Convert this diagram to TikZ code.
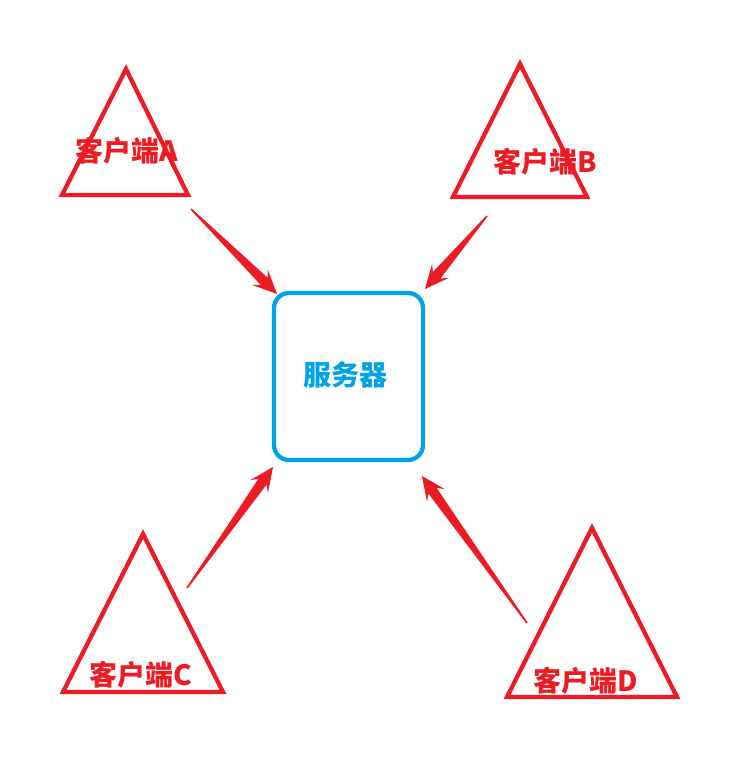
\documentclass[tikz,border=0pt]{standalone}
\usepackage{fontspec}
\newfontfamily\cjk{Noto Sans CJK SC}
\usetikzlibrary{calc}
\definecolor{cred}{HTML}{ED1C24}
\definecolor{cblue}{HTML}{00A2E8}
\tikzset{
  tri/.style={draw=cred, line width=4.3pt, line join=miter},
  clabel/.style={text=cred, font=\cjk\bfseries\fontsize{28}{30}\selectfont, inner sep=0pt},
  server/.style={draw=cblue, line width=4.3pt, rounded corners=15pt, minimum width=149pt, minimum height=167pt, inner sep=0pt},
  slabel/.style={text=cblue, font=\cjk\bfseries\fontsize{28}{30}\selectfont, inner sep=0pt},
  arrowfill/.style={fill=cred}
}
\newcommand\taperarrow[2]{%
  \path (#1) coordinate (tl) (#2) coordinate (tp);
  \path ($(tp)!24pt!(tl)$) coordinate (hb) ($(tp)!18pt!(tl)$) coordinate (hj);
  \fill[arrowfill] ($(tl)!0.8pt!90:(tp)$) -- ($(hj)!5pt!-90:(tl)$) -- ($(hb)!11pt!-90:(tl)$) -- (tp)
     -- ($(hb)!11pt!90:(tl)$) -- ($(hj)!5pt!90:(tl)$) -- ($(tl)!0.8pt!-90:(tp)$) -- cycle;
}
\begin{document}
\begin{tikzpicture}[x=1pt,y=-1pt]
\useasboundingbox (0,0) rectangle (729,763);
% server
\node[server] (srv) at (348.5,376.5) {};
\node[slabel] (srvlabel) at (345.5,375) {服务器};
% client triangles
\draw[tri] (126,69) coordinate (aT) -- (62,195) coordinate (aL) -- (188,195) coordinate (aR) -- cycle;
\node[clabel] (cA) at (126.5,150.5) {客户端A};
\draw[tri] (520,64) coordinate (bT) -- (453,197) coordinate (bL) -- (587,197) coordinate (bR) -- cycle;
\node[clabel] (cB) at (545.5,161.5) {客户端B};
\draw[tri] (143,534) coordinate (cT) -- (63,692) coordinate (cL) -- (223,692) coordinate (cR) -- cycle;
\node[clabel] (cC) at (140.5,675) {客户端C};
\draw[tri] (592,528) coordinate (dT) -- (507,697) coordinate (dL) -- (677,697) coordinate (dR) -- cycle;
\node[clabel] (cD) at (585.5,681) {客户端D};
% arrow ends
\coordinate (atail) at (191,209);
\coordinate (ahead) at (277,294);
\coordinate (btail) at (487,216);
\coordinate (bhead) at (425,289);
\coordinate (ctail) at (187,588);
\coordinate (chead) at (273,467);
\coordinate (dtail) at (527,623);
\coordinate (dhead) at (422,476);
\taperarrow{atail}{ahead}
\taperarrow{btail}{bhead}
\taperarrow{ctail}{chead}
\taperarrow{dtail}{dhead}
\end{tikzpicture}
\end{document}
